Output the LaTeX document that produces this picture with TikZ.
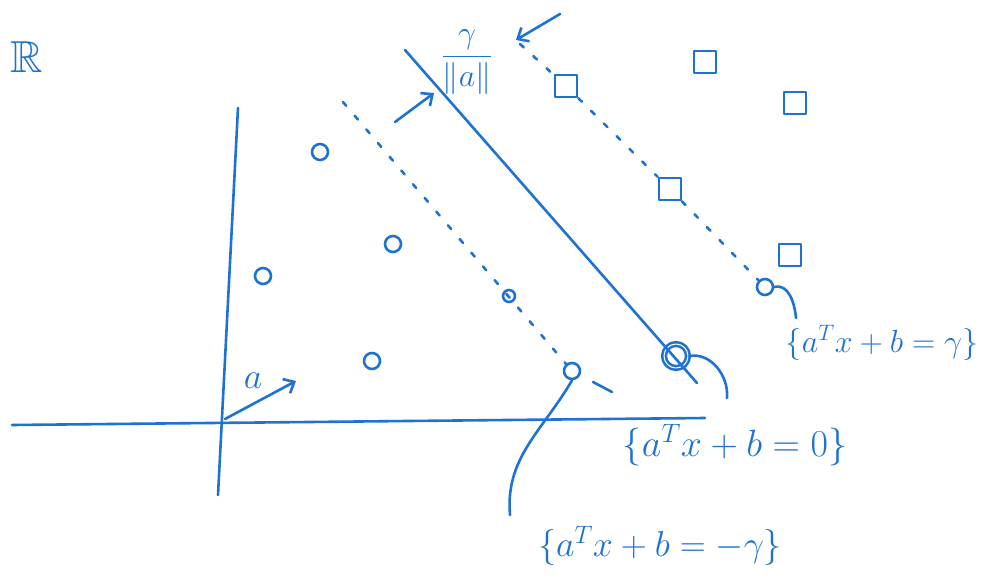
\RequirePackage{fix-cm}
\documentclass[tikz,border=0pt]{standalone}
\usepackage{amssymb}
\usetikzlibrary{arrows.meta}
\definecolor{pen}{RGB}{30,115,210}
\begin{document}
\begin{tikzpicture}[
    x=1pt, y=-1pt,
    pen/.style={draw=pen, line width=2.6pt, line cap=round, line join=round},
    dot/.style={circle, pen, minimum size=16pt, inner sep=0pt},
    sqbox/.style={rectangle, pen, minimum size=22pt, inner sep=0pt},
    lbl/.style={text=pen, font=\fontsize{32}{36}\selectfont, inner sep=0pt},
    arrow/.style={pen, -{Straight Barb[length=9pt,width=16pt]}},
    dots/.style={pen, dash pattern=on 5pt off 13pt}
]
    \useasboundingbox (0,0) rectangle (997,583);

    % axes and the vector a
    \coordinate (ytop) at (238,108);
    \coordinate (ybot) at (218,495);
    \coordinate (xl) at (12,425);
    \coordinate (xr) at (705,418);
    \coordinate (o) at (225,419);
    \coordinate (atip) at (296,381);
    \draw[pen] (ytop) -- (ybot);
    \draw[pen] (xl) -- (xr);
    \draw[arrow] (o) -- (atip);
    \node[lbl, font=\fontsize{36}{40}\selectfont] (alab) at (253,381) {$a$};
    \node[lbl] (space) at (27,57) {\scalebox{1.4}{$\mathbb{R}$}};

    % points
    \node[dot] (p1) at (320,152) {};
    \node[dot] (p2) at (393,244) {};
    \node[dot] (p3) at (263,276) {};
    \node[dot] (p4) at (372,361) {};
    \node[dot, minimum size=12pt] (p5) at (509,296) {};
    \node[dot] (sv1) at (572,371) {};
    \node[dot, minimum size=24pt, double=white, double distance=1pt] (sv0) at (676,356) {};
    \node[dot] (sv2) at (765,287) {};
    \node[sqbox] (q1) at (566,86) {};
    \node[sqbox] (q2) at (670,189) {};
    \node[sqbox] (q3) at (705,62) {};
    \node[sqbox] (q4) at (795,103) {};
    \node[sqbox] (q5) at (790,255) {};

    % hyperplanes
    \coordinate (h0a) at (405,50);
    \coordinate (h0b) at (697,383);
    \coordinate (hma) at (343,102);
    \coordinate (hmc) at (593,382);
    \coordinate (hmb) at (612,392);
    \coordinate (hpa) at (520,44);
    \draw[pen] (h0a) -- (h0b);
    \draw[dots] (hma) -- (sv1);
    \draw[pen] (hmc) -- (hmb);
    \draw[dots] (hpa) -- (q1) -- (q2) -- (sv2);

    % margin
    \node[lbl, font=\fontsize{32}{36}\selectfont] (marg) at (467,62) {$\displaystyle\frac{\gamma}{\|a\|}$};
    \coordinate (m1) at (560,14);
    \coordinate (m2) at (516,40);
    \coordinate (m3) at (395,122);
    \coordinate (m4) at (434,93);
    \draw[arrow] (m1) -- (m2);
    \draw[arrow] (m3) -- (m4);

    % labels of the planes
    \node[lbl, font=\fontsize{38}{42}\selectfont] (n0) at (735,445) {$\{a^Tx+b=0\}$};
    \node[lbl, font=\fontsize{36}{40}\selectfont] (n1) at (660,546) {$\{a^Tx+b=-\gamma\}$};
    \node[lbl] (n2) at (882,343) {$\{a^Tx+b=\gamma\}$};
    \coordinate (e0) at (727,398);
    \coordinate (e1) at (510,515);
    \coordinate (e2) at (796,318);
    \draw[pen] (sv0.east) to[out=10, in=85] (e0);
    \draw[pen] (sv1.south) to[out=240, in=95] (e1);
    \draw[pen] (sv2.east) to[out=15, in=95] (e2);
\end{tikzpicture}
\end{document}
